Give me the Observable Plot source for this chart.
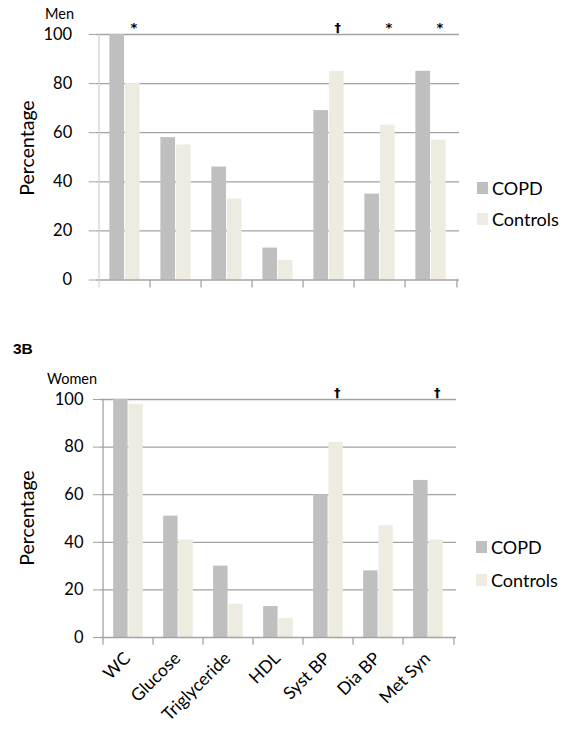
<!DOCTYPE html>
<html>
<head>
<meta charset="utf-8">
<script src="https://cdn.jsdelivr.net/npm/d3@7"></script>
<script src="https://cdn.jsdelivr.net/npm/@observablehq/plot@0.6"></script>
<style>
  html, body { margin: 0; padding: 0; background: #fff; }
  #root { position: relative; width: 566px; height: 733px; overflow: hidden; font-family: Lato, "Open Sans", sans-serif; color: #000; }
  .abs { position: absolute; white-space: nowrap; line-height: 1; }
  .sw { position: absolute; width: 11px; height: 12px; }
  svg { display: block; }
</style>
</head>
<body>
<div id="root"></div>
<script>
// ---- data ----
const categories = ["WC", "Glucose", "Triglyceride", "HDL", "Syst BP", "Dia BP", "Met Syn"];
const seriesNames = ["COPD", "Controls"];
const menCOPD = [100, 58, 46, 13, 69, 35, 85];
const menControls = [80, 55, 33, 8, 85, 63, 57];
const womenCOPD = [100, 51, 30, 13, 60, 28, 66];
const womenControls = [98, 41, 14, 8, 82, 47, 41];
const menSig = ["*", "", "", "", "\u2020", "*", "*"];
const womenSig = ["", "", "", "", "\u2020", "", "\u2020"];
const yTicks = [0, 20, 40, 60, 80, 100];
const colors = ["#bfbfbf", "#eeece1"];

const W = 566;
const root = document.getElementById("root");

function makeChart(o) {
  const bw = (W - o.ml - o.mr) / categories.length;
  const gp = bw * 0.2;
  const barW = (bw - 2 * gp) / 2;
  const copd = categories.map((c, i) => ({cat: c, v: o.copd[i]}));
  const ctl = categories.map((c, i) => ({cat: c, v: o.ctl[i]}));
  const sig = categories.map((c, i) => ({cat: c, s: o.sig[i]})).filter(d => d.s);
  const marks = [
    Plot.ruleY(yTicks.filter(t => t > 0), {stroke: "#a3a3a3", strokeWidth: 1.3}),
    Plot.axisY({ticks: yTicks, tickSize: 7, tickPadding: o.tickPad, label: null, stroke: "#a3a3a3", fontSize: 16.5, tickFormat: d => d}),
    Plot.barY(copd, {x: "cat", y: "v", fill: colors[0], insetLeft: gp, insetRight: gp + barW}),
    Plot.barY(ctl, {x: "cat", y: "v", fill: colors[1], insetLeft: gp + barW, insetRight: gp}),
    Plot.ruleY([0], {stroke: "#a3a3a3", strokeWidth: 1.3}),
    Plot.ruleX([categories[0]], {x: d => d, dx: -bw / 2, y1: -3.3, y2: 100, stroke: o.axisColor, strokeWidth: 1.3}),
    Plot.ruleX(categories.slice(1), {x: d => d, dx: -bw / 2, y1: -3.3, y2: 0, stroke: "#a3a3a3", strokeWidth: 1.3}),
    Plot.ruleX([categories[categories.length - 1]], {x: d => d, dx: bw / 2, y1: -3.3, y2: 0, stroke: "#a3a3a3", strokeWidth: 1.3}),
    Plot.text(sig, {x: "cat", y: () => 100, text: "s", dx: barW / 2 + 1, dy: o.sigDy, lineAnchor: "middle", fontSize: 13, fontWeight: "bold", fontFamily: "'DejaVu Sans', sans-serif"})
  ];
  if (o.labels) {
    marks.push(Plot.text(categories, {x: d => d, frameAnchor: "bottom", text: d => d, rotate: -45, textAnchor: "end", lineAnchor: "middle", dy: 18, dx: -1, fontSize: 17.5}));
  }
  return Plot.plot({
    width: W, height: o.height,
    marginTop: o.mt, marginBottom: o.mb, marginLeft: o.ml, marginRight: o.mr,
    style: {fontFamily: "Lato, 'Open Sans', sans-serif", fontSize: "14px", background: "transparent", overflow: "visible"},
    x: {type: "band", domain: categories, padding: 0, axis: null},
    y: {domain: [0, 100], axis: null},
    marks
  });
}

function place(el, left, topPx) {
  el.style.position = "absolute";
  el.style.left = left + "px";
  el.style.top = topPx + "px";
  root.appendChild(el);
}
function addText(txt, left, topPx, css) {
  const d = document.createElement("div");
  d.className = "abs";
  d.textContent = txt;
  Object.assign(d.style, css || {});
  place(d, left, topPx);
  return d;
}
function addLegend(left, topPx, gap) {
  seriesNames.forEach((name, i) => {
    const sw = document.createElement("div");
    sw.className = "sw";
    sw.style.background = colors[i];
    place(sw, left, topPx + i * gap);
    addText(name, left + 15, topPx + i * gap - 3, {fontSize: "18px"});
  });
}

// top chart (Men)
const chartMen = makeChart({copd: menCOPD, ctl: menControls, sig: menSig, height: 300, mt: 34, mb: 20.5, ml: 95.7, mr: 107, tickPad: 17, axisColor: "#d4d4d4", labels: false, sigDy: -7});
place(chartMen, 0, 0);
addText("Men", 45, 7, {fontSize: "14.5px"});
addText("Percentage", 27, 148, {fontSize: "19.5px", transform: "translate(-50%,-50%) rotate(-90deg)"});
addLegend(477, 182, 31);

// label 3B
addText("3B", 13, 341, {fontSize: "15.5px", fontWeight: "bold", fontFamily: "'Liberation Sans', Arial, sans-serif"});

// bottom chart (Women)
const chartWomen = makeChart({copd: womenCOPD, ctl: womenControls, sig: womenSig, height: 373, mt: 39, mb: 96, ml: 100, mr: 110, tickPad: 10, axisColor: "#a3a3a3", labels: true, sigDy: -7});
place(chartWomen, 0, 360);
addText("Women", 47, 372, {fontSize: "14.5px"});
addText("Percentage", 27, 518, {fontSize: "19.5px", transform: "translate(-50%,-50%) rotate(-90deg)"});
addLegend(476, 541, 33);
</script>
</body>
</html>
